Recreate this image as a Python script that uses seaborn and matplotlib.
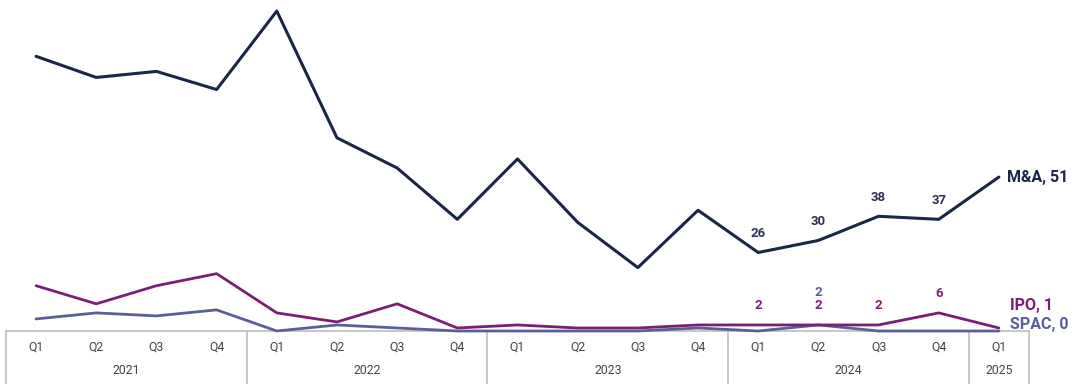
import numpy as np
import pandas as pd
import matplotlib
matplotlib.use("Agg")
import matplotlib.pyplot as plt
import matplotlib.transforms as mtransforms
import seaborn as sns

# ---- data ----
quarters = ["Q1", "Q2", "Q3", "Q4", "Q1", "Q2", "Q3", "Q4", "Q1", "Q2", "Q3", "Q4",
            "Q1", "Q2", "Q3", "Q4", "Q1"]
years = ["2021", "2022", "2023", "2024", "2025"]
year_counts = [4, 4, 4, 4, 1]
mna = [91, 84, 86, 80, 106, 64, 54, 37, 57, 36, 21, 40, 26, 30, 38, 37, 51]
ipo = [15, 9, 15, 19, 6, 3, 9, 1, 2, 1, 1, 2, 2, 2, 2, 6, 1]
spac = [4, 6, 5, 7, 0, 2, 1, 0, 0, 0, 0, 1, 0, 2, 0, 0, 0]
label_idx = [12, 13, 14, 15]  # quarters with value labels (2024)

sns.set_theme(style="white")
plt.rcParams["font.family"] = ["Roboto", "DejaVu Sans"]

C_MNA = "#1a2744"
C_MNA_LBL = "#2b3450"
C_IPO = "#7a1f73"
C_SPAC = "#5b5f99"
C_GRID = "#bdbdbd"
C_TXT = "#444444"

W, H = 1080, 384
fig = plt.figure(figsize=(W / 100, H / 100), dpi=100)
left_px, right_px, top_px, base_px = 6, 1029, 5, 331
ax = fig.add_axes([left_px / W, (H - base_px) / H, (right_px - left_px) / W, (base_px - top_px) / H])

x = np.arange(len(quarters))
df = pd.DataFrame({"x": x, "M&A": mna, "IPO": ipo, "SPAC": spac})

sns.lineplot(data=df, x="x", y="SPAC", ax=ax, color=C_SPAC, linewidth=2.0, clip_on=False, zorder=3)
sns.lineplot(data=df, x="x", y="IPO", ax=ax, color=C_IPO, linewidth=2.0, clip_on=False, zorder=4)
sns.lineplot(data=df, x="x", y="M&A", ax=ax, color=C_MNA, linewidth=2.2, clip_on=False, zorder=5)

ax.set_xlim(-0.5, len(quarters) - 0.5)
ax.set_ylim(0, 108)
ax.set_xticks([])
ax.set_yticks([])
ax.set_xlabel("")
ax.set_ylabel("")
for s in ax.spines.values():
    s.set_visible(False)

# ---- value labels ----
for i in label_idx:
    ax.annotate(str(mna[i]), (x[i], mna[i]), xytext=(0, 9), textcoords="offset points",
                ha="center", va="bottom", fontsize=9.5, fontweight="bold", color=C_MNA_LBL)
    ax.annotate(str(ipo[i]), (x[i], ipo[i]), xytext=(0, 9), textcoords="offset points",
                ha="center", va="bottom", fontsize=9.5, fontweight="bold", color=C_IPO)
    if spac[i] > 0:
        ax.annotate(str(spac[i]), (x[i], ipo[i]), xytext=(0, 19), textcoords="offset points",
                    ha="center", va="bottom", fontsize=9.5, fontweight="bold", color=C_SPAC)

last = len(quarters) - 1
ax.annotate(f"M&A, {mna[last]}", (x[last], mna[last]), xytext=(6, 0), textcoords="offset points",
            ha="left", va="center", fontsize=11.5, fontweight="bold", color=C_MNA, annotation_clip=False)
ax.annotate(f"IPO, {ipo[last]}", (x[last], ipo[last]), xytext=(8, 16), textcoords="offset points",
            ha="left", va="center", fontsize=11.5, fontweight="bold", color=C_IPO, annotation_clip=False)
ax.annotate(f"SPAC, {spac[last]}", (x[last], spac[last]), xytext=(8, 5), textcoords="offset points",
            ha="left", va="center", fontsize=11.5, fontweight="bold", color=C_SPAC, annotation_clip=False)

# ---- category table under the axis ----
trans = mtransforms.blended_transform_factory(ax.transData, ax.transAxes)
ax_h = base_px - top_px
y_bottom = -(H - base_px) / ax_h
y_q = -(347 - base_px) / ax_h
y_y = -(370 - base_px) / ax_h

ax.plot([-0.5, len(quarters) - 0.5], [0, 0], transform=trans, color=C_GRID, lw=1.2, clip_on=False, zorder=1)
for xi, q in zip(x, quarters):
    ax.text(xi, y_q, q, transform=trans, ha="center", va="center", fontsize=8.8, color=C_TXT)

start = 0
bounds = [-0.5]
for yr, n in zip(years, year_counts):
    center = start + (n - 1) / 2
    ax.text(center, y_y, yr, transform=trans, ha="center", va="center", fontsize=8.8, color=C_TXT)
    start += n
    bounds.append(start - 0.5)
for b in bounds:
    ax.plot([b, b], [0, y_bottom], transform=trans, color=C_GRID, lw=1.2, clip_on=False, zorder=1)

fig.savefig("out.png", dpi=100)
